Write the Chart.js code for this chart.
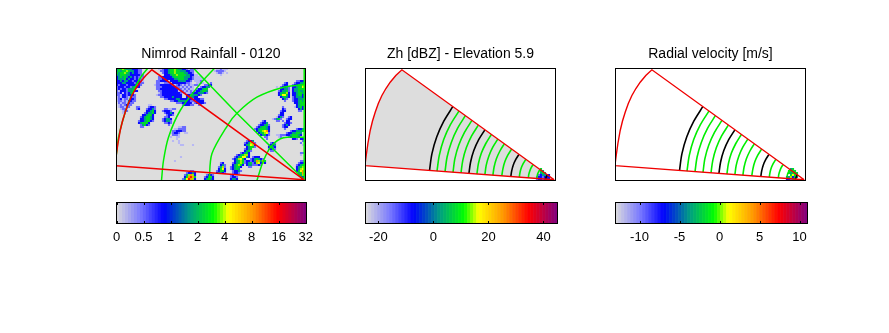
<!DOCTYPE html>
<html>
<head>
<meta charset="utf-8">
<title>Radar panels</title>
<script src="https://cdn.jsdelivr.net/npm/chart.js@4/dist/chart.umd.js"></script>
<style>
  body { margin: 0; background: #fff; }
  canvas { position: absolute; }
</style>
</head>
<body>
<canvas id="rainMap" width="250" height="137" style="left:86px;top:44px"></canvas>
<canvas id="zhMap" width="250" height="137" style="left:335px;top:44px"></canvas>
<canvas id="velMap" width="250" height="137" style="left:585px;top:44px"></canvas>
<canvas id="rainBar" width="250" height="50" style="left:86px;top:196px"></canvas>
<canvas id="zhBar" width="250" height="50" style="left:335px;top:196px"></canvas>
<canvas id="velBar" width="250" height="50" style="left:585px;top:196px"></canvas>
<script>
// Titles and colour bar ticks
const rainTitle = 'Nimrod Rainfall - 0120';
const zhTitle = 'Zh [dBZ] - Elevation 5.9';
const velTitle = 'Radial velocity [m/s]';

const rainTickPos = [0, 1, 2, 3, 4, 5, 6, 7];
const rainTickLabels = ['0', '0.5', '1', '2', '4', '8', '16', '32'];
const zhTickPos = [-20, 0, 20, 40];
const zhTickLabels = ['-20', '0', '20', '40'];
const velTickPos = [-10, -5, 0, 5, 10];
const velTickLabels = ['-10', '-5', '0', '5', '10'];

// Colour ramp stops of the bars: [fraction, r, g, b]
const rampStops = [
  [0, 220, 220, 220], [0.13, 120, 120, 255], [0.25, 0, 0, 255], [0.39, 0, 160, 130],
  [0.515, 0, 255, 0], [0.59, 255, 255, 0], [0.72, 255, 150, 0], [0.85, 255, 0, 0], [1, 128, 0, 128]
];
const rampBins = 64;

// Rain levels, digit in the runs below -> colour
const levelColors = ['#dddddd', '#b8b8f4', '#6a6aff', '#0a0aff', '#00a085', '#00dc28', '#a0f000', '#ffff00', '#ff9a00', '#ff1400'];

// Rain runs: [row, col, digits], grid of 2px cells from the top left of the map
const rainNorthWest = [
  [0, 0, '4556544433322'], [1, 0, '4545565443322'], [2, 0, '5455654343322'], [3, 0, '44555443333322'],
  [4, 0, '34545434323212'], [5, 0, '34445343323221'], [6, 0, '33434433233321'], [7, 0, '33344333323322'],
  [8, 0, '3233323333232'], [9, 0, '233323324433'], [10, 0, '2323324443'], [11, 0, '21333244433'],
  [12, 0, '223132344'], [13, 0, '2213323332'], [14, 0, '1213321322'], [15, 0, '1231221332'],
  [16, 0, '1221213322'], [17, 1, '21221322'], [18, 1, '1212322'], [19, 1, '122122'], [19, 10, '22'],
  [20, 2, '1221'], [20, 10, '23'], [21, 3, '122'], [22, 3, '11']
];
const rainTopCentre = [
  [0, 21, '1123345565443321'], [0, 37, '2211'], [1, 22, '22334556554443322'], [2, 23, '2334556555544332'],
  [3, 24, '333455655554433'], [3, 39, '11'], [4, 21, '2233'], [4, 25, '33345555544432'], [4, 39, '1111'],
  [5, 21, '22333'], [5, 26, '3334455544332'], [5, 39, '11111'], [6, 20, '223333'], [6, 27, '33334444332'], [6, 39, '1112'],
  [7, 20, '22'], [7, 22, '11222'], [7, 28, '3333333221'], [7, 40, '1121'], [7, 47, '2'],
  [8, 19, '12233333321'], [8, 30, '23212121'], [8, 38, '1221'], [8, 44, '2233'],
  [9, 20, '222333333322'], [9, 32, '1212121'], [9, 42, '23344'],
  [10, 20, '223333333332'], [10, 32, '2121211'], [10, 40, '233455'],
  [11, 21, '2233333333'], [11, 31, '12212121'], [11, 39, '2334554'],
  [12, 21, '123333333332'], [12, 33, '1211'], [12, 37, '233344432'], [13, 20, '1223333333333'], [13, 35, '33444432'],
  [14, 22, '22333343333'], [14, 35, '344433'], [15, 24, '22333344333333'], [15, 38, '233322'],
  [16, 27, '223344443322'], [16, 39, '23333'], [17, 30, '2223333322'], [17, 38, '1233332'],
  [18, 33, '233322'], [18, 41, '22'],
  [0, 50, '11211'], [0, 55, '1'], [1, 49, '122221'], [2, 50, '1221'], [2, 55, '1'], [3, 52, '1']
];
const rainWestCells = [
  [18, 16, '11'], [19, 16, '2332'], [20, 15, '23342'], [21, 15, '33453'], [22, 14, '234453'],
  [23, 13, '334553'], [24, 12, '2345543'], [25, 12, '3345543'], [26, 11, '23345532'], [27, 11, '345553'],
  [28, 12, '24532'], [29, 12, '22'],
  [20, 24, '2211'], [20, 28, '22'], [21, 23, '23332'], [22, 24, '23343'], [23, 25, '2332'],
  [24, 24, '223'], [25, 23, '23443'], [26, 23, '23442'], [27, 24, '2232'], [28, 26, '2'],
  [29, 31, '1122'], [30, 29, '112222'], [31, 28, '2233322'], [32, 27, '12332'], [32, 34, '11'],
  [33, 28, '2221'], [34, 27, '1'], [34, 30, '11'], [35, 30, '1'], [36, 28, '1'], [36, 31, '1'],
  [37, 31, '1'], [38, 32, '11'], [44, 32, '1'], [46, 29, '1'], [38, 38, '1']
];
const rainEastCells = [
  [7, 84, '23'], [8, 83, '233'], [9, 80, '1'], [9, 82, '23342'], [10, 82, '33442'], [11, 81, '234452'],
  [12, 81, '345563'], [13, 81, '357753'], [14, 82, '34543'], [15, 83, '342'], [16, 84, '2'],
  [6, 90, '2233'], [7, 89, '233445'], [8, 88, '2334467'], [9, 88, '3345576'], [10, 88, '3445555'],
  [11, 88, '3445444'], [12, 88, '3345543'], [13, 88, '3345533'], [14, 88, '2344433'], [15, 88, '2334443'],
  [16, 88, '2334544'], [17, 89, '334554'], [18, 90, '34553'], [19, 89, '1'], [19, 90, '3453'], [20, 91, '343'], [21, 91, '22'],
  [19, 83, '2'], [20, 83, '32'], [21, 82, '233'], [22, 82, '33'], [23, 81, '233'], [24, 80, '1342'],
  [25, 78, '1'], [25, 79, '2452'], [26, 80, '22'],
  [24, 86, '23'], [25, 85, '233'], [26, 83, '2'], [26, 85, '33'], [27, 84, '2332'], [28, 83, '2343'],
  [29, 83, '233'], [30, 84, '2'],
  [26, 73, '23'], [27, 72, '2334'], [28, 71, '233452'], [29, 70, '2345543'], [30, 69, '23455543'],
  [31, 70, '3456783'], [32, 71, '345672'], [33, 72, '34532'], [34, 74, '22'], [35, 75, '2'],
  [30, 90, '2334'], [31, 87, '2334445'], [32, 85, '23344554'], [33, 84, '233455543'], [33, 80, '1122'],
  [34, 86, '234443'], [34, 81, '121'], [35, 88, '332'], [35, 92, '33'], [36, 93, '22'], [37, 92, '2'],
  [38, 93, '1'], [42, 92, '22'], [43, 92, '1'], [45, 94, '2'],
  [37, 75, '1'], [37, 77, '232'], [38, 76, '2334'], [39, 76, '3443'], [40, 76, '2342'], [41, 77, '22']
];
const rainSouthChain = [
  [36, 65, '2334'], [37, 64, '234672'], [38, 64, '345763'], [39, 65, '34552'], [40, 64, '2345'],
  [41, 64, '3452'], [42, 62, '23453'], [43, 60, '2345663'], [44, 59, '23457743'], [44, 68, '2333'],
  [45, 58, '2346753'], [45, 67, '2345432'], [46, 59, '34565'], [46, 64, '2332'], [46, 68, '3486485'],
  [47, 58, '2345652'], [47, 64, '23452'], [47, 68, '2367363'], [48, 58, '345653'], [48, 65, '3442'],
  [48, 69, '2232'], [49, 57, '234553'], [49, 66, '22'], [50, 57, '23454'], [51, 58, '23342'],
  [52, 58, '2332'], [53, 57, '23'],
  [47, 52, '23'], [48, 52, '342'], [49, 51, '2462'], [50, 51, '3573'], [51, 50, '23553'], [52, 50, '34432'],
  [53, 45, '2332'], [54, 44, '23453'], [55, 44, '34543'],
  [51, 37, '22'], [52, 35, '23343'], [53, 34, '246863'], [54, 34, '358985'], [55, 33, '2479863'],
  [54, 57, '2332'], [55, 57, '3443'],
  [46, 92, '22'], [47, 91, '2334'], [48, 90, '23455'], [49, 90, '34567'], [50, 90, '34678'], [51, 90, '35789'],
  [52, 91, '4588'], [53, 91, '3465'], [54, 92, '33']
];
// The few echoes close to the radar in the two sweep panels
const zhRuns = [
  [50, 87, '5'], [51, 87, '54'], [52, 87, '454'], [53, 86, '234423'], [54, 85, '2332333'], [55, 85, '2332333']
];
const velRuns = [
  [50, 87, '45'], [51, 86, '5555'], [52, 86, '54555'], [53, 87, '5755'], [54, 85, '346354'], [55, 85, '33254']
];

// Sector outline and range rings, [x, y] in map units from the bottom left
const sectorOutline = [
  [188.7, 0.7], [-2, 15], [-0.6, 15], [0.7, 25], [2.4, 37], [4.7, 50], [7, 59.5], [9.7, 68.3], [12.8, 77],
  [16.4, 85], [20.4, 92], [24.7, 98.3], [30.3, 105], [36.4, 110.7], [188.7, 0.7]
];
const blackRings = [
  [[64, 9.9], [66.4, 26.7], [71.2, 43.5], [78.3, 59.3], [87.3, 73.8]],
  [[103.4, 7], [105.1, 18.5], [108.3, 29.9], [113.2, 40.8], [119.4, 50.7]],
  [[145.3, 3.9], [146.2, 9.7], [147.8, 15.6], [150.3, 21.1], [153.4, 26.1]],
  [[180.2, 1.3], [180.4, 2.5], [180.7, 3.6], [181.2, 4.7], [181.8, 5.7]]
];
const greenRings = [
  [[71.5, 9.4], [73.8, 25.1], [78.2, 40.9], [84.9, 55.8], [93.4, 69.4]],
  [[79.5, 8.8], [81.6, 23.5], [85.8, 38.1], [92, 52.1], [99.9, 64.8]],
  [[87.5, 8.2], [89.4, 21.8], [93.3, 35.4], [99.1, 48.3], [106.4, 60.1]],
  [[95.5, 7.6], [97.3, 20.1], [100.8, 32.7], [106.1, 44.6], [112.9, 55.4]],
  [[111.4, 6.4], [112.9, 16.8], [115.8, 27.2], [120.3, 37], [125.8, 46]],
  [[119.4, 5.8], [120.7, 15.2], [123.4, 24.5], [127.3, 33.3], [132.3, 41.4]],
  [[127.4, 5.2], [128.6, 13.5], [130.9, 21.7], [134.4, 29.5], [138.8, 36.7]],
  [[136.3, 4.6], [137.4, 11.6], [139.3, 18.7], [142.3, 25.3], [146.1, 31.4]],
  [[153.8, 3.3], [154.5, 8], [155.8, 12.7], [157.8, 17.1], [160.3, 21.2]],
  [[162.8, 2.6], [163.3, 6.1], [164.3, 9.6], [165.7, 12.9], [167.6, 15.9]],
  [[171.2, 2], [171.6, 4.3], [172.2, 6.7], [173.2, 8.9], [174.5, 10.9]]
];
// Map grid on the rainfall panel
const gridRings = [
  [[141.4, 0], [148, 20], [156.4, 35], [168, 42.7], [188.7, 43.3]],
  [[93.7, 0], [96.4, 26.7], [112.4, 55.7], [121.4, 67.3], [141.4, 83.3], [168, 93.3], [188.7, 96]],
  [[46, 0], [48, 20], [53, 43.3], [64.7, 70], [84.7, 96.7], [98.7, 112]],
  [[32, 112], [26.4, 105], [18, 90], [9.7, 68.3], [3, 43.3], [1.4, 30], [0, 20]]
];
const gridRadials = [
  [[188.7, 0.7], [121.4, 67.3], [78.3, 112]],
  [[188.7, 0], [188.7, 112]]
];

const toXY = (pts) => pts.map(([x, y]) => ({ x, y }));

// 2px cells on the pixel grid
function runsToCells(runs) {
  const cells = [];
  runs.forEach(([row, col, digits]) => {
    [...digits].forEach((d, i) => {
      cells.push({ x: (col + i) * 2 + 1.5, y: 111.5 - row * 2, level: Number(d) });
    });
  });
  return cells;
}

function rampColor(t) {
  let k = 0;
  while (k < rampStops.length - 2 && t > rampStops[k + 1][0]) k++;
  const a = rampStops[k], b = rampStops[k + 1];
  const f = (t - a[0]) / (b[0] - a[0]);
  const mix = (n) => Math.round(a[n] + (b[n] - a[n]) * f);
  return `rgb(${mix(1)},${mix(2)},${mix(3)})`;
}

// Background and frame are not part of any dataset
const framePlugin = {
  id: 'frame',
  beforeDatasetsDraw(chart, args, opts) {
    if (!opts.fill) return;
    const { left, top, width, height } = chart.chartArea;
    chart.ctx.fillStyle = opts.fill;
    chart.ctx.fillRect(left, top, width, height);
  },
  afterDatasetsDraw(chart) {
    const { left, top, width, height } = chart.chartArea;
    const ctx = chart.ctx;
    ctx.save();
    ctx.strokeStyle = '#000';
    ctx.lineWidth = 1;
    ctx.strokeRect(left, top, width, height);
    // colour bars get short inward ticks
    const xs = chart.scales.x;
    if (chart.config.type === 'bar') {
      ctx.beginPath();
      xs.ticks.forEach((t) => {
        const px = Math.round(xs.getPixelForValue(t.value)) + 0.5;
        ctx.moveTo(px, top); ctx.lineTo(px, top + 2.5);
        ctx.moveTo(px, top + height); ctx.lineTo(px, top + height - 2.5);
      });
      ctx.stroke();
    }
    ctx.restore();
  }
};

const lineSet = (pts, color, width, order, extra) => ({
  data: toXY(pts),
  showLine: true,
  borderColor: color,
  borderWidth: width,
  pointRadius: 0,
  tension: 0,
  order,
  ...extra
});

const cellSet = (cells) => ({
  data: cells,
  pointStyle: 'rect',
  pointRadius: 1.5,
  pointBorderWidth: 0,
  pointBackgroundColor: (c) => levelColors[c.raw ? c.raw.level : 0],
  order: 5
});

function makeMap(id, title, xMin, fill, leftPad, datasets) {
  return new Chart(document.getElementById(id), {
    type: 'scatter',
    data: { datasets },
    plugins: [framePlugin],
    options: {
      responsive: false,
      animation: false,
      layout: { autoPadding: false, padding: { left: leftPad, right: 250 - leftPad - (190 - xMin), top: 1.5, bottom: 0.5 } },
      plugins: {
        legend: { display: false },
        tooltip: { enabled: false },
        frame: { fill },
        title: {
          display: true,
          text: title,
          color: '#000',
          font: { family: "'Liberation Sans'", size: 14, weight: 'normal', lineHeight: 1.2 },
          padding: { top: 0, bottom: 6.2 }
        }
      },
      scales: {
        x: { type: 'linear', display: false, min: xMin, max: 190 },
        y: { type: 'linear', display: false, min: 0, max: 112 }
      }
    }
  });
}

function makeBar(id, range, tickPos, tickLabels, plotWidth) {
  const step = (range[1] - range[0]) / rampBins;
  const bins = [];
  const colors = [];
  for (let i = 0; i < rampBins; i++) {
    bins.push({ x: range[0] + (i + 0.5) * step, y: 1 });
    colors.push(rampColor((i + 0.5) / rampBins));
  }
  return new Chart(document.getElementById(id), {
    type: 'bar',
    data: { datasets: [{ data: bins, backgroundColor: colors, barPercentage: 1, categoryPercentage: 1 }] },
    plugins: [framePlugin],
    options: {
      responsive: false,
      animation: false,
      layout: { autoPadding: false, padding: { left: 30.5, right: 250 - 30.5 - plotWidth, top: 6.5, bottom: 0 } },
      plugins: { legend: { display: false }, tooltip: { enabled: false } },
      scales: {
        x: {
          type: 'linear',
          offset: false,
          min: range[0],
          max: range[1],
          border: { display: false },
          grid: { display: false, drawTicks: false, offset: false },
          afterBuildTicks: (s) => { s.ticks = tickPos.map((value) => ({ value })); },
          afterFit: (s) => { s.height = 22.5; },
          ticks: {
            autoSkip: false,
            maxRotation: 0,
            padding: 6,
            color: '#000',
            font: { family: "'Liberation Sans'", size: 13 },
            callback: (v, i) => tickLabels[i]
          }
        },
        y: { display: false, min: 0, max: 1 }
      }
    }
  });
}

const allRain = [...rainNorthWest, ...rainTopCentre, ...rainWestCells, ...rainEastCells, ...rainSouthChain];

const sweepSets = (cells, fill) => [
  ...(fill ? [lineSet(sectorOutline, 'rgba(0,0,0,0)', 0, 9, { fill: 'shape', backgroundColor: fill })] : []),
  cellSet(cells),
  ...greenRings.map((r) => lineSet(r, '#00ee00', 1.6, 3, { tension: 0.3 })),
  ...blackRings.map((r) => lineSet(r, '#000', 1.6, 2, { tension: 0.3 })),
  lineSet(sectorOutline, '#f00000', 1.4, 1)
];

makeMap('rainMap', rainTitle, 1, '#dddddd', 30.5, [
  cellSet(runsToCells(allRain)),
  ...gridRings.map((r) => lineSet(r, '#00f000', 1.5, 3, { tension: 0.3 })),
  ...gridRadials.map((r) => lineSet(r, '#00f000', 1.5, 3)),
  lineSet(sectorOutline, '#f00000', 1.5, 1)
]);
makeMap('zhMap', zhTitle, 0, null, 30.5, sweepSets(runsToCells(zhRuns), '#dddddd'));
makeMap('velMap', velTitle, 0, null, 30.5, sweepSets(runsToCells(velRuns), null));

makeBar('rainBar', [0, 7.03], rainTickPos, rainTickLabels, 190);
makeBar('zhBar', [-24.7, 45.1], zhTickPos, zhTickLabels, 192);
makeBar('velBar', [-13, 11], velTickPos, velTickLabels, 192);
</script>
</body>
</html>
